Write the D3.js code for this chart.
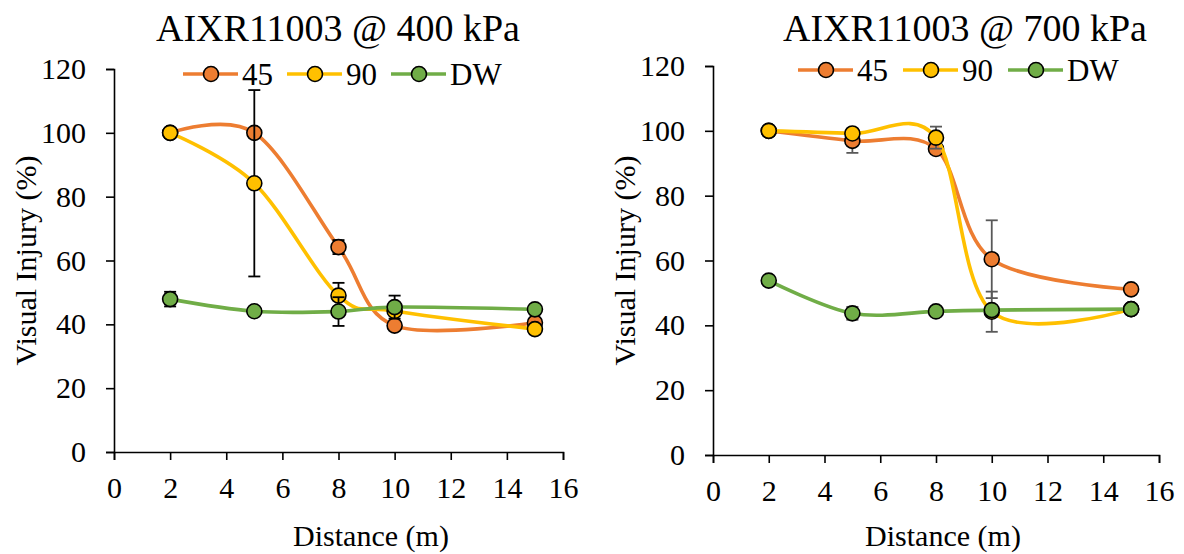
<!DOCTYPE html>
<html>
<head>
<meta charset="utf-8">
<script src="https://cdn.jsdelivr.net/npm/d3@7"></script>
<style>
  body { margin: 0; background: #fff; }
  svg text { font-family: "Liberation Serif", "Times New Roman", serif !important; fill: #000; }
</style>
</head>
<body>
<div id="chart"></div>
<script>
// distances (m) on the x axis
var distances = [2, 5, 8, 10, 15]
var seriesNames = ["45", "90", "DW"]
var seriesColors = ["#ED7D31", "#FFC000", "#70AD47"]
var xTicks = [0, 2, 4, 6, 8, 10, 12, 14, 16]
var yTicks = [0, 20, 40, 60, 80, 100, 120]

// 400 kPa
var inj400_45 = [100, 100, 64.2, 39.6, 40.5]
var err400_45 = [0, 0, 2.2, 0, 0]
var inj400_90 = [100, 84.2, 49, 44.2, 38.5]
var err400_90 = [0, 29.2, 4, 0, 0]
var inj400_DW = [47.9, 44.1, 44.0, 45.4, 44.7]
var err400_DW = [2.3, 0, 4.5, 3.6, 0]

// 700 kPa
var inj700_45 = [100, 96.9, 94.4, 60.4, 51.1]
var err700_45 = [0, 3.7, 0, 12, 0]
var inj700_90 = [100, 99.2, 97.9, 44.2, 45]
var err700_90 = [0, 0, 3.4, 6.2, 0]
var inj700_DW = [53.8, 43.7, 44.3, 44.7, 45.0]
var err700_DW = [0, 2, 0, 0, 0]

var FONT = "'Liberation Serif', 'Times New Roman', serif"

var svg = d3.select("#chart").append("svg")
    .attr("width", 1184)
    .attr("height", 554)
    .attr("font-family", FONT)
    .style("background", "#fff")

function draw_panel(cfg) {
    var xScale = d3.scaleLinear().domain([0, 16]).range([cfg.x0, cfg.x1])
    var yScale = d3.scaleLinear().domain([0, 120]).range([cfg.y0, cfg.y1])
    var g = svg.append("g")

    // title
    g.append("text")
        .attr("x", cfg.titleX)
        .attr("y", 41)
        .attr("text-anchor", "middle")
        .style("font-size", "38px")
        .text(cfg.title)

    // axes
    g.append("g")
        .attr("transform", "translate(0," + cfg.y0 + ")")
        .call(d3.axisBottom(xScale).tickValues(xTicks).tickSize(8).tickPadding(17))
        .attr("font-family", FONT)
    g.append("g")
        .attr("transform", "translate(" + cfg.x0 + ",0)")
        .call(d3.axisLeft(yScale).tickValues(yTicks).tickSize(8).tickPadding(20))
        .attr("font-family", FONT)
    g.selectAll(".domain, .tick line").attr("stroke", "#000").attr("stroke-width", 1.6)
    g.selectAll(".tick text").style("font-size", "30px")

    // axis titles
    g.append("text")
        .attr("x", cfg.xTitleX)
        .attr("y", 546)
        .attr("text-anchor", "middle")
        .style("font-size", "30px")
        .text("Distance (m)")
    g.append("text")
        .attr("transform", "translate(" + (cfg.x0 - 89) + "," + ((cfg.y0 + cfg.y1) / 2) + ") rotate(-90)")
        .attr("text-anchor", "middle")
        .attr("dy", "0.35em")
        .style("font-size", "30px")
        .text("Visual Injury (%)")

    var line = d3.line()
        .x(function (d) { return xScale(d.x) })
        .y(function (d) { return yScale(d.y) })
        .curve(d3.curveCardinal.tension(0))

    var all = cfg.values.map(function (vals, s) {
        return distances.map(function (x, i) { return { x: x, y: vals[i], e: cfg.errors[s][i] } })
    })

    all.forEach(function (pts, s) {
        g.append("path")
            .datum(pts)
            .attr("d", line)
            .attr("fill", "none")
            .attr("stroke", seriesColors[s])
            .attr("stroke-width", 3.6)

        var bars = g.append("g").selectAll("g")
            .data(pts.filter(function (d) { return d.e > 0 }))
            .enter().append("g")
            .attr("stroke", cfg.errColor)
            .attr("stroke-width", 1.8)
        bars.append("line")
            .attr("x1", function (d) { return xScale(d.x) })
            .attr("x2", function (d) { return xScale(d.x) })
            .attr("y1", function (d) { return yScale(d.y - d.e) })
            .attr("y2", function (d) { return yScale(d.y + d.e) })
        bars.append("line")
            .attr("x1", function (d) { return xScale(d.x) - 6 })
            .attr("x2", function (d) { return xScale(d.x) + 6 })
            .attr("y1", function (d) { return yScale(d.y + d.e) })
            .attr("y2", function (d) { return yScale(d.y + d.e) })
        bars.append("line")
            .attr("x1", function (d) { return xScale(d.x) - 6 })
            .attr("x2", function (d) { return xScale(d.x) + 6 })
            .attr("y1", function (d) { return yScale(d.y - d.e) })
            .attr("y2", function (d) { return yScale(d.y - d.e) })

        g.append("g").selectAll("circle")
            .data(pts)
            .enter().append("circle")
            .attr("cx", function (d) { return xScale(d.x) })
            .attr("cy", function (d) { return yScale(d.y) })
            .attr("r", 7.5)
            .attr("fill", seriesColors[s])
            .attr("stroke", "#000")
            .attr("stroke-width", 1.6)
    })

    // legend
    var legend = g.append("g")
    seriesNames.forEach(function (name, i) {
        var lx = cfg.legendX + i * cfg.legendStep
        legend.append("line")
            .attr("x1", lx).attr("x2", lx + 55)
            .attr("y1", cfg.legendY).attr("y2", cfg.legendY)
            .attr("stroke", seriesColors[i])
            .attr("stroke-width", 3.6)
        legend.append("circle")
            .attr("cx", lx + 28).attr("cy", cfg.legendY)
            .attr("r", 7.5)
            .attr("fill", seriesColors[i])
            .attr("stroke", "#000")
            .attr("stroke-width", 1.6)
        legend.append("text")
            .attr("x", lx + 59)
            .attr("y", cfg.legendY)
            .attr("dy", "0.35em")
            .style("font-size", "31px")
            .text(name)
    })
}

draw_panel({
    title: "AIXR11003 @ 400 kPa", titleX: 338, xTitleX: 371,
    x0: 114, x1: 563, y0: 452, y1: 69,
    legendX: 183, legendY: 74, legendStep: 104,
    values: [inj400_45, inj400_90, inj400_DW],
    errors: [err400_45, err400_90, err400_DW],
    errColor: "#000"
})

draw_panel({
    title: "AIXR11003 @ 700 kPa", titleX: 965, xTitleX: 943,
    x0: 713, x1: 1159, y0: 455, y1: 66,
    legendX: 798, legendY: 70, legendStep: 105,
    values: [inj700_45, inj700_90, inj700_DW],
    errors: [err700_45, err700_90, err700_DW],
    errColor: "#595959"
})
</script>
</body>
</html>
